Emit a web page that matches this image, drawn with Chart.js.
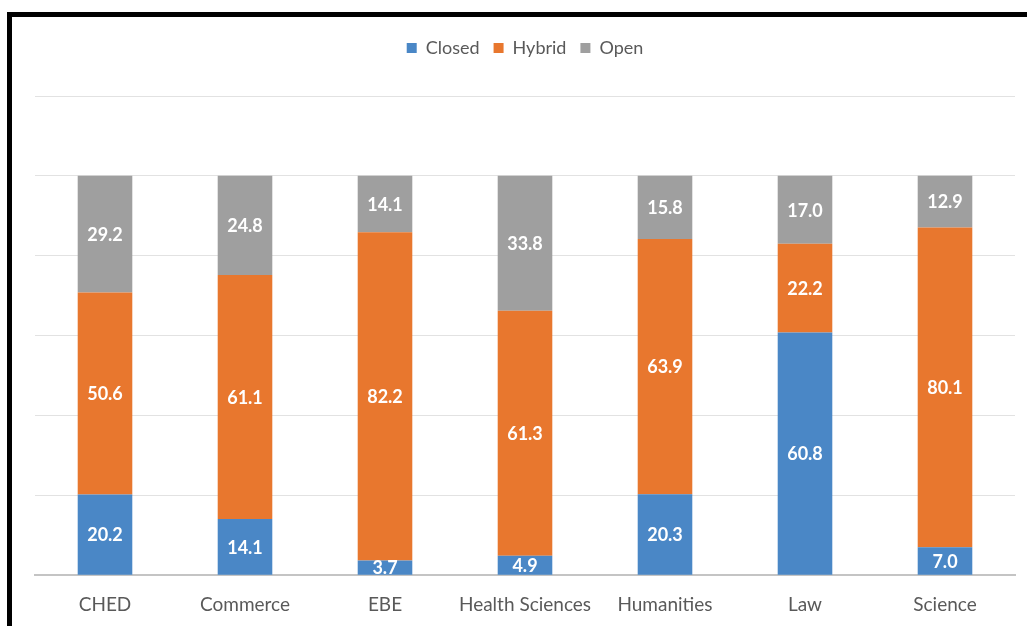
<!DOCTYPE html>
<html>
<head>
<meta charset="utf-8">
<script src="https://cdn.jsdelivr.net/npm/chart.js@4.4.0/dist/chart.umd.min.js"></script>
<style>
  html, body { margin:0; padding:0; background:#fff; }
  #wrap { position:relative; width:1027px; height:626px; overflow:hidden; }
  #frame { position:absolute; left:7px; top:12px; width:1040px; height:640px;
           border-left:5px solid #000; border-top:5px solid #000; }
  canvas { position:absolute; left:0; top:0; }
</style>
</head>
<body>
<div id="wrap">
  <canvas id="myChart" width="1027" height="626"></canvas>
  <div id="frame"></div>
</div>
<script>
// categories and series
const categories = ['CHED', 'Commerce', 'EBE', 'Health Sciences', 'Humanities', 'Law', 'Science']
const closed = [20.2, 14.1, 3.7, 4.9, 20.3, 60.8, 7.0]
const hybrid = [50.6, 61.1, 82.2, 61.3, 63.9, 22.2, 80.1]
const open = [29.2, 24.8, 14.1, 33.8, 15.8, 17.0, 12.9]
const yTicks = [0, 20, 40, 60, 80, 100, 120]

const fontFamily = 'Lato, "Open Sans", sans-serif'

// draws the value in the middle of each bar segment
const segmentLabels = {
  id: 'segmentLabels',
  afterDatasetsDraw(chart) {
    const ctx = chart.ctx
    ctx.save()
    ctx.fillStyle = '#ffffff'
    ctx.font = 'bold 18px ' + fontFamily
    ctx.textAlign = 'center'
    ctx.textBaseline = 'middle'
    chart.data.datasets.forEach((ds, i) => {
      const meta = chart.getDatasetMeta(i)
      meta.data.forEach((bar, j) => {
        const mid = (bar.y + bar.base) / 2
        ctx.fillText(ds.data[j].toFixed(1), bar.x, mid + 1)
      })
    })
    ctx.restore()
  }
}

// more room under the legend
const legendSpace = {
  id: 'legendSpace',
  beforeInit(chart) {
    const fit = chart.legend.fit
    chart.legend.fit = function () {
      fit.bind(chart.legend)()
      this.height += 29
    }
  }
}

var ctx = document.getElementById('myChart').getContext('2d')
var chart = new Chart(ctx, {
  type: 'bar',
  data: {
    labels: categories,
    datasets: [
      { label: 'Closed', data: closed, backgroundColor: '#4a87c6' },
      { label: 'Hybrid', data: hybrid, backgroundColor: '#e8772e' },
      { label: 'Open', data: open, backgroundColor: '#9f9f9f' }
    ]
  },
  options: {
    responsive: false,
    animation: false,
    layout: { padding: { left: 35, right: 12, top: 25, bottom: 0 } },
    datasets: { bar: { categoryPercentage: 1, barPercentage: 0.39 } },
    plugins: {
      tooltip: { enabled: false },
      legend: {
        position: 'top',
        labels: {
          boxWidth: 10, boxHeight: 10, padding: 14,
          color: '#595959',
          font: { family: fontFamily, size: 18 }
        }
      }
    },
    scales: {
      x: {
        stacked: true,
        grid: { display: false },
        border: { color: '#c4c4c4', width: 2 },
        ticks: { color: '#595959', font: { family: fontFamily, size: 19 }, padding: 10 }
      },
      y: {
        stacked: true,
        min: yTicks[0],
        max: yTicks[yTicks.length - 1],
        afterBuildTicks: axis => { axis.ticks = yTicks.map(v => ({ value: v })) },
        afterFit: axis => { axis.width = 0 },
        ticks: { display: false },
        border: { display: false },
        grid: { color: '#e2e2e2', lineWidth: 1, drawTicks: false }
      }
    }
  },
  plugins: [segmentLabels, legendSpace]
})
</script>
</body>
</html>
